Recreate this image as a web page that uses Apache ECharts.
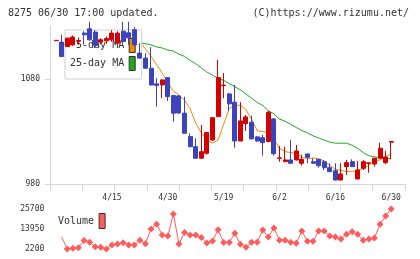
<!DOCTYPE html>
<html>
<head>
<meta charset="utf-8">
<script src="https://cdn.jsdelivr.net/npm/echarts@6/dist/echarts.min.js"></script>
<style>
  html, body { margin: 0; padding: 0; background: #fff; }
  #main { width: 420px; height: 259px; }
</style>
</head>
<body>
<div id="main"></div>
<script>
// trading days (first one is only half shown at the left edge)
var dates = ['4/1',
  '4/2', '4/3', '4/6', '4/7', '4/8', '4/9', '4/10', '4/13', '4/14', '4/15',
  '4/16', '4/17', '4/20', '4/21', '4/22', '4/23', '4/24', '4/27', '4/28', '4/30',
  '5/1', '5/7', '5/8', '5/11', '5/12', '5/13', '5/14', '5/15', '5/18', '5/19',
  '5/20', '5/21', '5/22', '5/25', '5/26', '5/27', '5/28', '5/29', '6/1', '6/2',
  '6/3', '6/4', '6/5', '6/8', '6/9', '6/10', '6/11', '6/12', '6/15', '6/16',
  '6/17', '6/18', '6/19', '6/22', '6/23', '6/24', '6/25', '6/26', '6/29', '6/30'];
var tickLabels = ['4/15', '4/30', '5/19', '6/2', '6/16', '6/30'];

var opens = [1117,
  1115.6, 1111.4, 1113, 1116.5, 1124.2, 1128.3, 1125.2, 1115.6, 1116.8, 1117.8,
  1114.6, 1126, 1124.5, 1127.4, 1105.1, 1100.3, 1090.7, 1075.7, 1074.7, 1081.7,
  1064.5, 1064.2, 1047.7, 1025.3, 1015.7, 1004.6, 1009.4, 1022.1, 1044.4, 1074,
  1066.1, 1058.2, 1021.1, 1037.7, 1039, 1025, 1024.3, 1020.5, 1042.2, 1004.6,
  1001.3, 1003, 1003, 999.8, 1008.7, 1001.3, 1003.6, 1001.3, 995.6, 992.7,
  983.8, 996.6, 1001.3, 984.8, 995, 999.8, 999.1, 1004.6, 1000.4, 1020];
var closes = [1117.3,
  1101.8, 1119.4, 1120.4, 1117, 1122.6, 1117.8, 1112.3, 1117.8, 1119, 1124.2,
  1124.2, 1116.2, 1119.7, 1113, 1100.3, 1090.7, 1074.7, 1074.1, 1079.5, 1063.5,
  1047.7, 1047.9, 1028.5, 1015.7, 1004.6, 1010.9, 1029.1, 1043.4, 1081.7, 1074.5,
  1056.6, 1021.1, 1040.3, 1044.1, 1023.1, 1021.1, 1019.5, 1048.6, 1009, 1005,
  1003, 999.8, 1011.6, 1003.6, 1005.6, 999.8, 997.5, 995.6, 991.8, 983.8,
  989.6, 1000.4, 996.6, 993.4, 1001.3, 1000.2, 1004.6, 1014.2, 1005.8, 1020.5];
var lows = [1116.8,
  1101.8, 1111, 1112, 1113, 1113, 1117, 1110, 1113.7, 1114, 1116,
  1113, 1115, 1113, 1112, 1100, 1090, 1074, 1054, 1062, 1059.4,
  1039.6, 1047, 1028, 1015, 1004, 1004, 1008, 1021, 1044, 1062,
  1049.9, 1014.7, 1021, 1030.7, 1023, 1020.5, 1007.1, 1020, 1007.1, 1001.3,
  1001, 999.5, 1002.5, 997.5, 999.8, 999.5, 995.6, 993.4, 991.5, 983.5,
  983.5, 988.6, 996.3, 984.5, 993.4, 990.8, 996.6, 1004.3, 998.9, 1003.6];
var highs = [1117.5,
  1122.6, 1120, 1122, 1120, 1126, 1135, 1127, 1119.4, 1121, 1127,
  1126, 1135, 1135, 1130, 1114.6, 1105, 1110.8, 1081.1, 1080, 1082,
  1065, 1065, 1063.5, 1028.5, 1023.7, 1036.5, 1030, 1044, 1098.7, 1086,
  1067, 1074.7, 1058.2, 1046, 1045.4, 1026, 1026.9, 1049.9, 1043, 1016.4,
  1015.7, 1022.1, 1017.3, 1008, 1009, 1004.6, 1004, 1003, 999.8, 999.8,
  999.8, 1003, 1003.6, 1002, 1003, 1000.5, 1005, 1019.5, 1011.6, 1021.1];

var ma5 = [null,
  1113, 1114, 1115, 1116, 1117, 1118, 1118, 1119, 1119, 1119,
  1119, 1119, 1118, 1117, 1116, 1109, 1102, 1094, 1086, 1077,
  1069, 1065, 1060, 1052, 1038, 1029, 1022, 1019, 1022, 1037,
  1052, 1056, 1055, 1051, 1042, 1031, 1030, 1029, 1023, 1014,
  1011, 1010, 1009, 1006, 1004, 1005, 1004, 1002, 998, 994,
  993, 992, 992, 993, 995, 998, 1002, 1003, 1006, 1009];
var ma25 = [null,
  1113, 1113, 1114, 1114, 1114, 1115, 1115, 1115, 1115, 1115,
  1115, 1115, 1115, 1115, 1115, 1114, 1113, 1111, 1110, 1108,
  1107, 1104, 1102, 1098, 1095, 1091, 1087, 1084, 1081, 1079,
  1076, 1073, 1070, 1066, 1062, 1058, 1055, 1050, 1047, 1042,
  1040, 1037, 1034, 1031, 1029, 1026, 1024, 1022, 1020, 1019,
  1019, 1019, 1017, 1014, 1010, 1007, 1006, 1005, 1005, 1004];

var volumes = [null,
  9250, 2200, 2600, 3000, 7200, 6100, 3550, 3200, 2200, 4550,
  5150, 5900, 4550, 4550, 7400, 5300, 14000, 16800, 10400, 9800,
  22750, 5150, 11900, 10400, 10400, 8950, 5700, 6900, 13450, 6000,
  6000, 11400, 5000, 3200, 6100, 6100, 13350, 9250, 14500, 7300,
  7300, 6100, 5550, 12800, 6700, 6700, 12800, 12800, 9800, 9250,
  8050, 10800, 12350, 10800, 7300, 8050, 8650, 16700, 21600, 25700];

var UP = '#d40000', DOWN = '#3c44bd';
var MONO = '"DejaVu Sans Mono", monospace';

var candleData = [];
for (var i = 0; i < dates.length; i++) {
  candleData.push([opens[i], closes[i], lows[i], highs[i]]);
}
// first drawn volume point has no marker in the original
var volData = volumes.map(function (v, i) {
  if (i === 1) return { value: v, symbol: 'none' };
  return v;
});
function plain(v) { return String(v); }  // no thousands separator

var chart = echarts.init(document.getElementById('main'));
var option = {
  animation: false,
  backgroundColor: '#fff',
  graphic: [
    { type: 'text', left: 8, top: 8, style: { text: '8275 06/30 17:00 updated.', font: '10px ' + MONO, fill: '#333' } },
    { type: 'text', right: 11, top: 8, style: { text: '(C)https://www.rizumu.net/', font: '10px ' + MONO, fill: '#333' } }
  ],
  legend: [
    {
      data: ['5-day MA', '25-day MA'],
      orient: 'vertical',
      left: 65, top: 30,
      align: 'right',
      icon: 'rect',
      itemWidth: 6, itemHeight: 14, itemGap: 3,
      padding: [8, 6, 8, 5],
      borderColor: '#d0d0d0', borderWidth: 1,
      backgroundColor: '#fff',
      itemStyle: { borderColor: '#333', borderWidth: 1 },
      textStyle: { fontFamily: MONO, fontSize: 10, color: '#333' },
      selectedMode: false,
      z: 3
    },
    {
      data: ['Volume'],
      left: 58, top: 213,
      align: 'right',
      icon: 'rect',
      itemWidth: 6, itemHeight: 15,
      padding: 0,
      itemStyle: { borderColor: '#333', borderWidth: 1 },
      textStyle: { fontFamily: MONO, fontSize: 10, color: '#333' },
      selectedMode: false
    }
  ],
  grid: [
    { left: 50, right: 15, top: 26, height: 158 },     // frame with ticks
    { left: 53.3, right: 26, top: 26, height: 158 },   // price data
    { left: 53.3, right: 26, top: 209, height: 40 }    // volume
  ],
  xAxis: [
    {
      gridIndex: 0, type: 'value', min: 0, max: 11, interval: 1,
      axisLine: { lineStyle: { color: '#d6d6d6' } },
      axisTick: { length: 6, lineStyle: { color: '#d6d6d6' } },
      axisLabel: { show: false },
      splitLine: { show: false }
    },
    {
      gridIndex: 1, type: 'category', data: dates, boundaryGap: true,
      axisLine: { show: false },
      axisTick: { show: false },
      axisLabel: {
        interval: function (idx, val) { return tickLabels.indexOf(val) >= 0; },
        fontFamily: MONO, fontSize: 8, color: '#333', margin: 10
      }
    },
    { gridIndex: 2, type: 'category', data: dates, boundaryGap: true, show: false }
  ],
  yAxis: [
    {
      gridIndex: 0, type: 'value', min: 980, max: 1131,
      axisLine: { show: true, lineStyle: { color: '#d6d6d6' } },
      axisTick: { show: true, length: 5, customValues: [980, 1080], lineStyle: { color: '#d6d6d6' } },
      axisLabel: { customValues: [980, 1080], formatter: plain, fontFamily: MONO, fontSize: 8, color: '#333', margin: 10 },
      splitLine: { show: false }
    },
    { gridIndex: 1, type: 'value', min: 980, max: 1131, show: false },
    {
      gridIndex: 2, type: 'value', min: 2200, max: 25700, interval: 11750,
      axisLine: { show: false },
      axisTick: { show: false },
      splitLine: { show: false },
      axisLabel: { formatter: plain, fontFamily: MONO, fontSize: 8, color: '#333', margin: 9 }
    }
  ],
  series: [
    {
      name: 'price',
      type: 'candlestick',
      xAxisIndex: 1, yAxisIndex: 1,
      data: candleData,
      barWidth: 4.5,
      itemStyle: { color: UP, color0: DOWN, borderColor: UP, borderColor0: DOWN, borderWidth: 1 },
      z: 5
    },
    {
      name: '5-day MA',
      type: 'line',
      xAxisIndex: 1, yAxisIndex: 1,
      data: ma5,
      symbol: 'none',
      itemStyle: { color: '#f08c00' },
      lineStyle: { color: '#f08c00', width: 1 },
      z: 2
    },
    {
      name: '25-day MA',
      type: 'line',
      xAxisIndex: 1, yAxisIndex: 1,
      data: ma25,
      symbol: 'none',
      itemStyle: { color: '#1fa81f' },
      lineStyle: { color: '#1fa81f', width: 1 },
      z: 2
    },
    {
      name: 'Volume',
      type: 'line',
      xAxisIndex: 2, yAxisIndex: 2,
      data: volData,
      symbol: 'diamond',
      symbolSize: 7,
      showAllSymbol: true,
      itemStyle: { color: '#ff5c5c' },
      lineStyle: { color: '#ff5c5c', width: 1 }
    }
  ]
};
chart.setOption(option);
</script>
</body>
</html>
